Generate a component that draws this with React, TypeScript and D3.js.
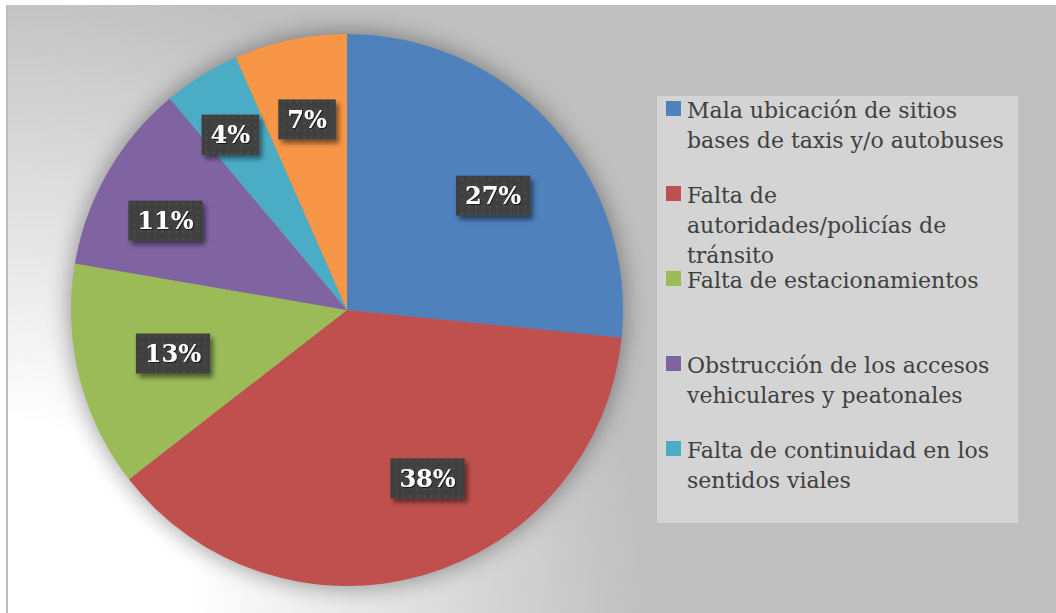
import React, { useEffect, useRef } from 'react';
import * as d3 from 'd3';

const categories = [
  'Mala ubicación de sitios bases de taxis y/o autobuses',
  'Falta de autoridades/policías de tránsito',
  'Falta de estacionamientos',
  'Obstrucción de los accesos vehiculares y peatonales',
  'Falta de continuidad en los sentidos viales',
  'Otros',
];
const values = [26.6, 37.9, 13.2, 11.2, 4.5, 6.6];
const valueLabels = ['27%', '38%', '13%', '11%', '4%', '7%'];
const colors = ['#4f81bd', '#c0504d', '#9bbb59', '#8064a2', '#4bacc6', '#f79646'];
// legend text as it wraps in the box (only the first five fit)
const legendLines = [
  ['Mala ubicación de sitios', 'bases de taxis y/o autobuses'],
  ['Falta de', 'autoridades/policías de', 'tránsito'],
  ['Falta de estacionamientos'],
  ['Obstrucción de los accesos', 'vehiculares y peatonales'],
  ['Falta de continuidad en los', 'sentidos viales'],
];
// best-fit nudges of the data labels away from the centroid
const labelNudge = [[13, 6], [31, -4], [0, 0], [-26, 0], [-22, -23], [-3, -15]];

export default function App() {
  const ref = useRef<SVGSVGElement>(null);

  useEffect(() => {
    const w = 1056, h = 613;
    const cx = 347, cy = 310, r = 276;
    const svg = d3.select(ref.current);
    svg.selectAll('*').remove();

    const defs = svg.append('defs');
    const grad = defs.append('radialGradient')
      .attr('id', 'bg')
      .attr('gradientUnits', 'userSpaceOnUse')
      .attr('cx', 0).attr('cy', 613).attr('r', 680);
    grad.append('stop').attr('offset', 0.28).attr('stop-color', '#ffffff');
    grad.append('stop').attr('offset', 0.95).attr('stop-color', '#bfbfbf');

    const pieShadow = defs.append('filter').attr('id', 'pieShadow')
      .attr('x', -0.2).attr('y', -0.2).attr('width', 1.4).attr('height', 1.4);
    pieShadow.append('feGaussianBlur').attr('stdDeviation', 11);

    const boxShadow = defs.append('filter').attr('id', 'boxShadow')
      .attr('x', -0.3).attr('y', -0.3).attr('width', 1.6).attr('height', 1.6);
    boxShadow.append('feGaussianBlur').attr('in', 'SourceAlpha').attr('stdDeviation', 2.5);
    boxShadow.append('feOffset').attr('dx', 3).attr('dy', 4).attr('result', 'b');
    boxShadow.append('feComponentTransfer').append('feFuncA').attr('type', 'linear').attr('slope', 0.5);
    const merge = boxShadow.append('feMerge');
    merge.append('feMergeNode');
    merge.append('feMergeNode').attr('in', 'SourceGraphic');

    const textShadow = defs.append('filter').attr('id', 'textShadow');
    textShadow.append('feDropShadow').attr('dx', 1).attr('dy', 1).attr('stdDeviation', 0.6)
      .attr('flood-color', '#000').attr('flood-opacity', 0.6);

    const pat = defs.append('pattern').attr('id', 'dots')
      .attr('patternUnits', 'userSpaceOnUse').attr('width', 7).attr('height', 7);
    pat.append('rect').attr('width', 7).attr('height', 7).attr('fill', '#404040');
    pat.append('rect').attr('x', 3).attr('y', 3).attr('width', 2).attr('height', 2).attr('fill', '#4e4e4e');

    // background
    svg.append('rect').attr('width', w).attr('height', h).attr('fill', '#ffffff');
    svg.append('rect').attr('x', 8).attr('y', 5).attr('width', w - 8).attr('height', h - 5).attr('fill', 'url(#bg)');
    svg.append('line').attr('x1', 7).attr('x2', 7).attr('y1', 5).attr('y2', h)
      .attr('stroke', '#bdbdbd').attr('stroke-width', 2);

    // pie
    const pie = d3.pie<number>().sort(null).value((d) => d);
    const arcs = pie(values);
    const arc = d3.arc<d3.PieArcDatum<number>>().innerRadius(0).outerRadius(r);
    const labelArc = d3.arc<d3.PieArcDatum<number>>().innerRadius(r * 0.65).outerRadius(r * 0.65);

    const g = svg.append('g').attr('transform', `translate(${cx},${cy})`);
    g.append('circle').attr('r', r + 2).attr('fill', '#000').attr('opacity', 0.35)
      .attr('filter', 'url(#pieShadow)');
    g.selectAll('path.slice')
      .data(arcs)
      .enter()
      .append('path')
      .attr('class', 'slice')
      .attr('d', arc)
      .attr('fill', (d, i) => colors[i]);

    // data labels
    const lab = g.selectAll('g.lab')
      .data(arcs)
      .enter()
      .append('g')
      .attr('class', 'lab')
      .attr('transform', (d, i) => {
        const [x, y] = labelArc.centroid(d);
        return `translate(${x + labelNudge[i][0]},${y + labelNudge[i][1]})`;
      });
    lab.each(function (d, i) {
      const sel = d3.select(this);
      const rect = sel.append('rect').attr('fill', 'url(#dots)').attr('filter', 'url(#boxShadow)');
      const t = sel.append('text')
        .attr('text-anchor', 'middle')
        .attr('dy', '0.36em')
        .attr('font-family', '"DejaVu Serif", serif')
        .attr('font-weight', 'bold')
        .attr('font-size', 24)
        .attr('fill', '#ffffff')
        .attr('filter', 'url(#textShadow)')
        .text(valueLabels[i]);
      const tw = (t.node() as SVGTextElement).getComputedTextLength();
      const bw = tw + 18, bh = 40;
      rect.attr('x', -bw / 2).attr('y', -bh / 2).attr('width', bw).attr('height', bh);
    });

    // legend
    const lg = svg.append('g');
    lg.append('rect').attr('x', 657).attr('y', 96).attr('width', 361).attr('height', 427).attr('fill', '#d4d4d4');
    const item = lg.selectAll('g.item')
      .data(legendLines)
      .enter()
      .append('g')
      .attr('class', 'item')
      .attr('transform', (d, i) => `translate(666,${101 + i * 85})`);
    item.append('rect').attr('width', 15).attr('height', 15).attr('fill', (d, i) => colors[i]);
    item.append('text')
      .attr('font-family', '"DejaVu Serif", serif')
      .attr('font-size', 22)
      .attr('fill', '#404040')
      .selectAll('tspan')
      .data((d) => d)
      .enter()
      .append('tspan')
      .attr('x', 21)
      .attr('y', (d, j) => 17 + j * 30)
      .text((d) => d);
  }, []);

  return (
    <svg ref={ref} width={1056} height={613}
      style={{ position: 'absolute', left: 0, top: 0, display: 'block' }} />
  );
}
